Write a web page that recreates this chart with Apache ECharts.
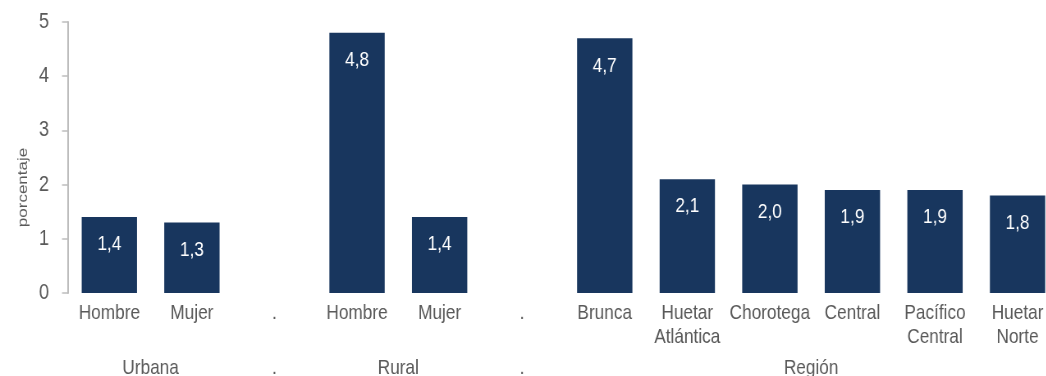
<!DOCTYPE html>
<html>
<head>
<meta charset="utf-8">
<script src="https://cdn.jsdelivr.net/npm/echarts@6/dist/echarts.min.js"></script>
<style>
  html, body { margin: 0; padding: 0; background: #ffffff; overflow: hidden; }
  #wrap { width: 1046px; height: 376px; overflow: hidden; }
  /* The chart is laid out wider and squeezed horizontally so the text reads as a narrow face */
  #chart { height: 376px; transform-origin: 0 0; }
</style>
</head>
<body>
<div id="wrap"><div id="chart"></div></div>
<script>
// Category labels along the bottom axis ("." marks the spacer slots between groups)
const categories = ['Hombre', 'Mujer', '.', 'Hombre', 'Mujer', '.', 'Brunca',
  'Huetar\nAtlántica', 'Chorotega', 'Central', 'Pacífico\nCentral', 'Huetar\nNorte'];
// Percentages per category (spacer slots have no bar)
const values = [1.4, 1.3, null, 4.8, 1.4, null, 4.7, 2.1, 2.0, 1.9, 1.9, 1.8];
// Group captions below the category labels, with the category index range they span
const groupNames = ['Urbana', '.', 'Rural', '.', 'Región'];
const groupSpans = [[0, 1], [2, 2], [3, 4], [5, 5], [6, 11]];
const yTicks = [0, 1, 2, 3, 4, 5];

const SX = 0.82;                 // horizontal squeeze factor
const W = 1046 / SX;             // pre-squeeze drawing width
const px = v => v / SX;          // screen px -> pre-squeeze px (horizontal)

const FONT = '"Liberation Sans", Arial, sans-serif';
const TEXT = '#595959';
const AXIS = '#bdbdbd';
const BAR = '#18365e';

const el = document.getElementById('chart');
el.style.width = W + 'px';
el.style.transform = 'scale(' + SX + ', 1)';

const groupCenters = groupSpans.map(s => (s[0] + s[1]) / 2);

const chart = echarts.init(el, null, { renderer: 'canvas', width: W, height: 376 });
chart.setOption({
  animation: false,
  backgroundColor: '#ffffff',
  grid: {
    left: px(68), top: 22, bottom: 83, width: px(990),
    containLabel: false, outerBoundsMode: 'none'
  },
  xAxis: [
    {
      type: 'category',
      data: categories,
      axisLine: { show: false },
      axisTick: { show: false },
      axisLabel: {
        interval: 0, margin: 8, color: TEXT, fontFamily: FONT, fontSize: 21, lineHeight: 24
      }
    },
    {
      type: 'value',
      position: 'bottom',
      offset: 55,
      min: -0.5,
      max: categories.length - 0.5,
      axisLine: { show: false },
      axisTick: { show: false },
      splitLine: { show: false },
      axisLabel: {
        customValues: groupCenters,
        margin: 8, color: TEXT, fontFamily: FONT, fontSize: 21, lineHeight: 24,
        formatter: v => {
          const i = groupCenters.findIndex(c => Math.abs(c - v) < 1e-6);
          return i >= 0 ? groupNames[i] : '';
        }
      }
    }
  ],
  yAxis: {
    type: 'value',
    min: yTicks[0],
    max: yTicks[yTicks.length - 1],
    interval: 1,
    name: 'porcentaje',
    nameLocation: 'middle',
    nameGap: 30,
    nameRotate: 90,
    nameTextStyle: { color: TEXT, fontFamily: FONT, fontSize: 17, padding: [0, 60, 0, 0] },
    axisLine: { show: true, onZero: false, lineStyle: { color: AXIS, width: 2 } },
    axisTick: { show: true, length: px(6), lineStyle: { color: AXIS, width: 1.5 } },
    splitLine: { show: false },
    axisLabel: { margin: px(19), color: TEXT, fontFamily: FONT, fontSize: 22 }
  },
  series: [{
    type: 'bar',
    data: values,
    barWidth: '67%',
    itemStyle: { color: BAR },
    label: {
      show: true,
      position: 'insideTop',
      distance: 17,
      color: '#ffffff',
      fontFamily: FONT,
      fontSize: 21,
      formatter: p => p.value.toFixed(1).replace('.', ',')
    }
  }]
});
</script>
</body>
</html>
